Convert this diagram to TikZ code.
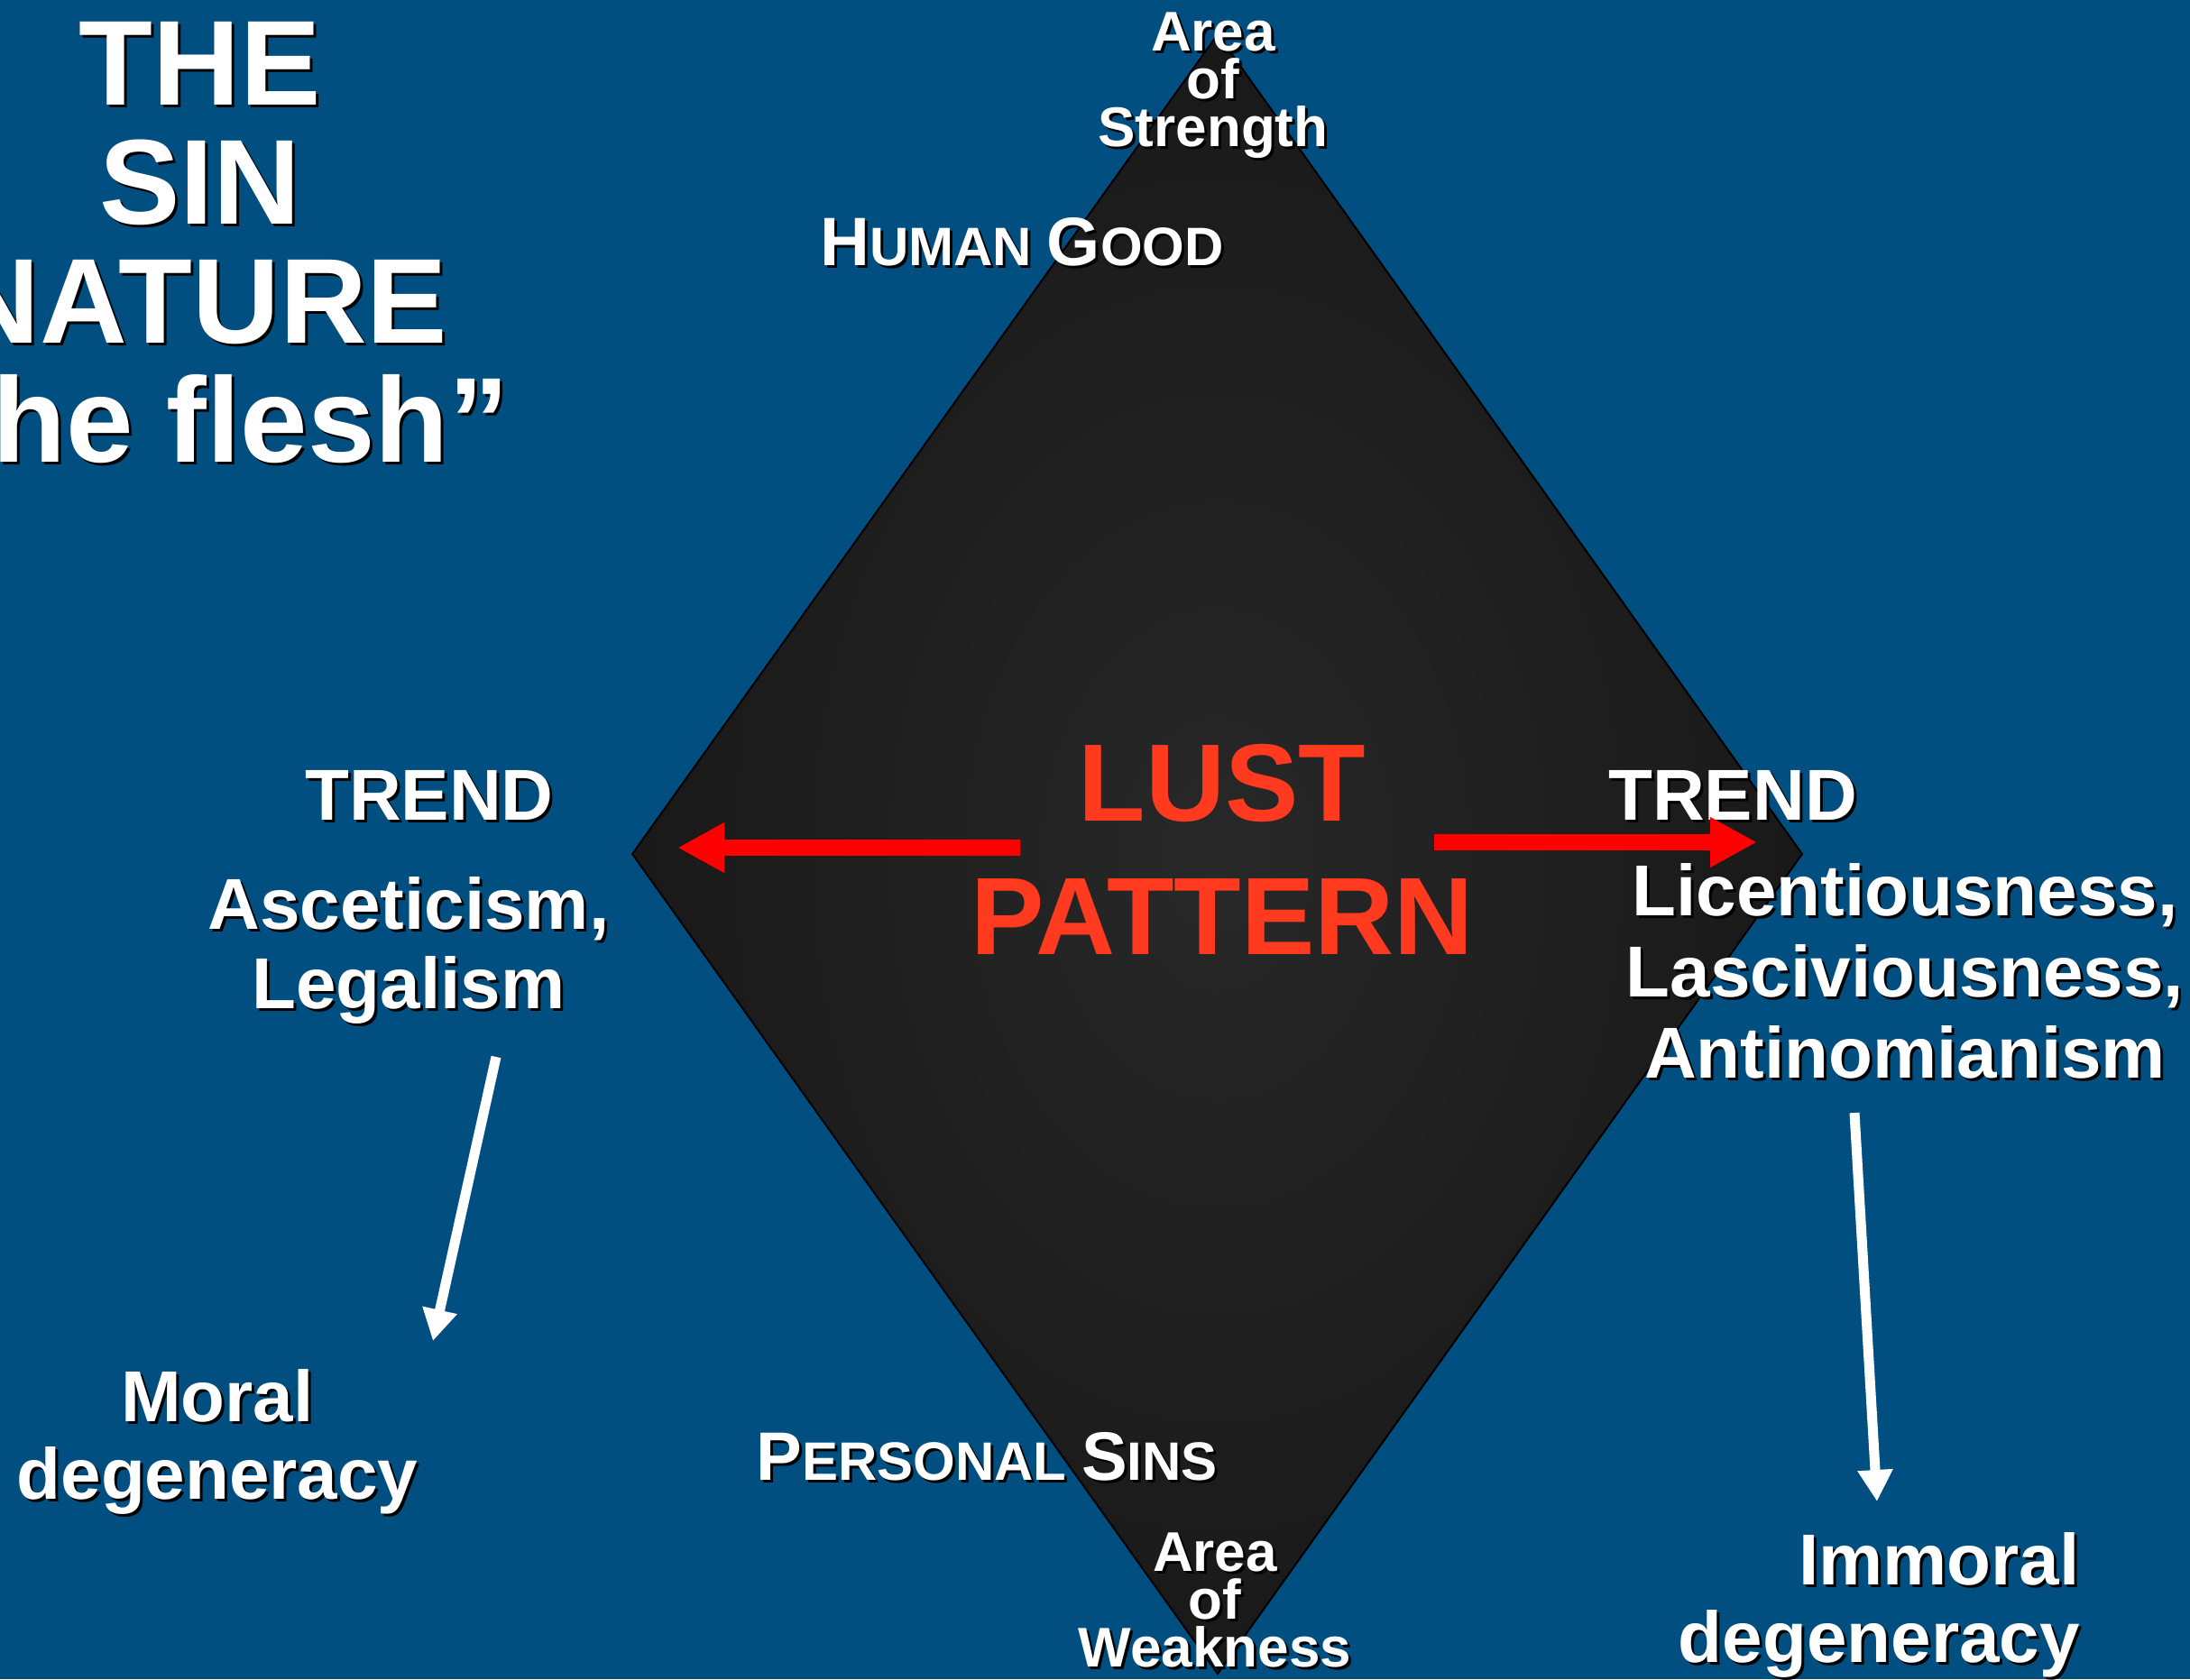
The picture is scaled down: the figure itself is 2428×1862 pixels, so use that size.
\documentclass[tikz,border=0pt]{standalone}
\usepackage{fontspec}
\setmainfont{Liberation Sans}
\usetikzlibrary{arrows.meta}
\definecolor{bgblue}{RGB}{1,79,128}
\definecolor{lustred}{RGB}{255,58,30}
\definecolor{dcin}{RGB}{40,40,40}
\definecolor{dcout}{RGB}{17,17,17}
\definecolor{shadowc}{RGB}{0,0,0}
\pgfdeclareradialshading{diamshade}{\pgfpoint{0bp}{0bp}}{color(0bp)=(dcin); color(38bp)=(dcout); color(72bp)=(dcout)}
\newcommand\fs[2]{\fontsize{#1}{#2}\selectfont}
\newcommand\shd[1]{\leavevmode\rlap{\kern1.5pt\raisebox{-1.5pt}{\color{shadowc}#1}}#1}
\newcommand\bigc[1]{{\fs{38pt}{40pt}#1}}
\begin{document}
\begin{tikzpicture}[x=0.5pt,y=-0.5pt,
  lbl/.style={text=white, inner sep=0pt, align=center},
  med/.style={font=\bfseries\fs{40pt}{44pt}},
  area/.style={font=\bfseries\fs{31pt}{26.5pt}},
  caps/.style={font=\bfseries\fs{30pt}{32pt}},
  redarrow/.style={draw=red, line width=9pt, -{Triangle[width=26pt,length=26pt]}},
  whitearrow/.style={draw=white, line width=5.5pt, -{Triangle[width=18.5pt,length=17.5pt]}},
  outline/.style={draw=black, line width=1pt}]
\useasboundingbox (0,0) rectangle (2428,1862);
\fill[bgblue] (0,0) rectangle (2428,1862);
% diamond
\coordinate (dtop) at (1350,38);
\coordinate (dleft) at (701,947);
\coordinate (dright) at (1998,947);
\coordinate (dbot) at (1350,1856);
\shade[shading=diamshade] (dtop) -- (dright) -- (dbot) -- (dleft) -- cycle;
\draw[outline, line join=miter] (dtop) -- (dright) -- (dbot) -- (dleft) -- cycle;
% texts (anchor base = baseline of the last line)
\node[lbl, anchor=base, font=\bfseries\fs{67pt}{66pt}] (title) at (222,512)
  {\shd{THE}\\\shd{SIN}\\\shd{NATURE}\\\shd{“the flesh”}};
\node[lbl, area, anchor=base] (strength) at (1345,163) {\shd{Area}\\\shd{of}\\\shd{Strength}};
\node[lbl, area, anchor=base] (weakness) at (1347,1848) {\shd{Area}\\\shd{of}\\\shd{Weakness}};
\node[lbl, caps, anchor=base west] (human) at (909,294) {\shd{\bigc{H}UMAN \bigc{G}OOD}};
\node[lbl, caps, anchor=base west] (personal) at (838,1641) {\shd{\bigc{P}ERSONAL \bigc{S}INS}};
\node[lbl, anchor=base, text=lustred, font=\bfseries\fs{61pt}{74pt}] (lust) at (1355,1058) {LUST\\PATTERN};
\node[lbl, med, anchor=base] (trendl) at (476,909) {\shd{TREND}};
\node[lbl, med, anchor=base] (trendr) at (1921,909) {\shd{TREND}};
\node[lbl, anchor=base, font=\bfseries\fs{40pt}{44pt}] (asc) at (453,1118) {\shd{Asceticism,}\\\shd{Legalism}};
\node[lbl, anchor=base, font=\bfseries\fs{40pt}{45pt}] (lic) at (2112,1195) {\shd{Licentiousness,}\\\shd{Lasciviousness,}\\\shd{Antinomianism}};
\node[lbl, anchor=base, font=\bfseries\fs{40pt}{43pt}] (moral) at (241,1662) {\shd{Moral}\\\shd{degeneracy}};
\node[lbl, anchor=base east, align=right, font=\bfseries\fs{40pt}{43pt}] (immoral) at (2306,1843) {\shd{Immoral}\\\shd{degeneracy}};
% arrows
\coordinate (rls) at (1131,940);
\coordinate (rle) at (751,940);
\coordinate (rrs) at (1590,934);
\coordinate (rre) at (1948,934);
\draw[redarrow] (rls) -- (rle);
\draw[redarrow] (rrs) -- (rre);
\coordinate (wls) at (550,1172);
\coordinate (wle) at (480,1487);
\coordinate (wrs) at (2056,1234);
\coordinate (wre) at (2081,1665);
\draw[whitearrow] (wls) -- (wle);
\draw[whitearrow] (wrs) -- (wre);
\end{tikzpicture}
\end{document}
